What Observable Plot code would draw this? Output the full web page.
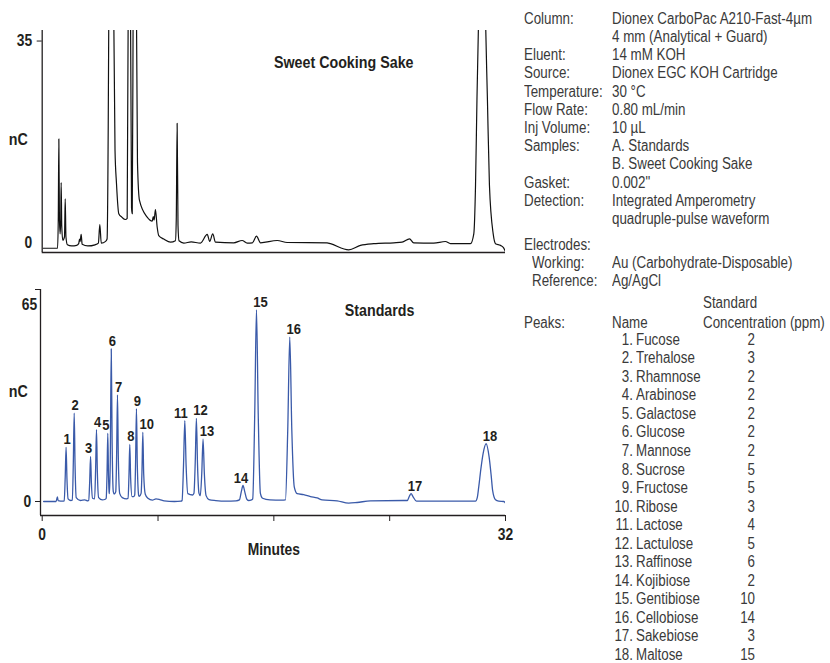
<!DOCTYPE html>
<html><head><meta charset="utf-8">
<script src="https://cdn.jsdelivr.net/npm/d3@7"></script>
<script src="https://cdn.jsdelivr.net/npm/@observablehq/plot@0.6"></script>
<style>
body{margin:0;background:#fff;}
#wrap{position:relative;width:830px;height:663px;overflow:hidden;font-family:"Liberation Sans",Arial,sans-serif;}
#top,#bottom{position:absolute;left:0;width:520px;}
#top{top:0}
#bottom{top:270px}
.t{position:absolute;font-size:16px;line-height:18px;color:#3a3a3a;white-space:pre;transform:scaleX(0.835);transform-origin:left center;}
.t.r{transform-origin:right center;text-align:right;}
</style></head><body>
<div id="wrap"><div id="top"></div><div id="bottom"></div><div id="info"></div></div>
<script>
// ---- Sample trace: Sweet Cooking Sake (minutes, nC) ----
const sakeTime = [0.07,1.06,1.11,1.15,1.19,1.24,1.28,1.31,1.35,1.42,1.54,1.59,1.64,1.74,
 2.03,2.38,2.52,2.58,2.62,2.69,2.76,3.15,3.65,3.88,3.98,4.08,4.38,4.48,
 4.56,4.60,4.77,4.94,5.03,5.13,5.29,5.50,5.75,5.87,
 5.94,6.02,6.10,6.17,6.22,
 6.28,6.40,6.51,6.58,6.72,7.25,7.60,7.67,7.73,7.82,7.94,8.05,8.40,8.86,9.20,
 9.26,9.32,9.38,9.45,9.78,10.29,10.93,
 11.40,11.57,11.78,11.97,13.23,13.81,14.16,14.52,14.80,15.08,16.23,16.92,19.68,19.91,21.17,21.98,22.90,24.28,24.86,25.37,25.66,27.04,27.85,28.20,29.58,
 29.81,29.93,30.03,30.15,30.39,30.61,30.75,30.89,31.15,31.31,31.65,31.86,32.0];
const sakeSignal = [-1.0,-1.0,4,18.0,4,1.5,4,10.4,3,0.4,1.0,7.6,1.0,-0.4,
 -0.6,-0.5,-0.2,0.6,0.2,1.4,-0.3,-0.6,-0.4,-0.1,3.1,-0.1,0.2,0.6,
 20,40,150,40,16,10.3,5.0,4.4,4.0,4.2,
 40,150,40,6,5.0,
 40,150,40,14,7.3,4.4,3.7,4.5,3.9,5.7,2.7,1.2,0.6,0.05,0.3,
 4,20.7,3,0.3,-0.1,0.1,-0.1,
 1.4,0.2,1.5,0.05,-0.05,0.35,-0.1,-0.05,1.1,-0.05,0.35,0.0,-0.05,-0.2,-1.27,-0.5,-0.2,-0.05,0.05,0.64,-0.05,-0.1,0.17,-0.2,-0.2,
 1.5,10,25,40,80,40,25,10,1.5,-0.2,-0.5,-0.9,-1.6];

// ---- Standards trace (minutes, nC) ----
const stdTime = [0.10,0.96,1.05,1.10,1.42,
 1.52,1.59,1.65,1.71,1.79,1.98,
 2.08,2.15,2.21,2.27,2.35,2.64,2.94,3.15,
 3.21,3.28,3.34,3.40,3.48,
 3.62,3.69,3.75,3.81,3.90,4.16,4.36,
 4.42,4.48,4.53,4.58,4.63,4.65,
 4.70,4.77,4.83,4.91,4.97,
 5.08,5.14,5.20,5.26,5.35,5.53,5.83,
 5.93,5.99,6.05,6.11,6.21,6.31,
 6.39,6.45,6.51,6.57,6.67,6.71,
 6.83,6.89,6.95,7.01,7.12,7.30,7.61,7.86,8.12,8.42,9.13,9.59,
 9.66,9.76,9.85,9.94,10.06,10.39,
 10.48,10.57,10.65,10.73,10.83,10.92,
 11.02,11.11,11.20,11.32,11.52,11.99,12.68,13.39,
 13.62,13.76,13.87,13.98,14.12,14.25,14.46,
 14.54,14.68,14.80,14.92,15.07,15.22,15.73,16.54,
 16.80,16.96,17.10,17.24,17.41,17.61,18.06,18.53,18.99,19.34,20.37,21.17,21.75,22.67,24.95,
 25.21,25.36,25.48,25.61,25.85,27.9,29.93,
 30.05,30.15,30.30,30.45,30.66,30.87,31.01,31.11,31.31,31.53,31.88,32.0];
const stdSignal = [0.0,0.0,1.4,0.3,0.1,
 0.2,7.5,16.6,7.0,0.8,0.3,
 0.4,12,27.1,11,1.2,0.3,0.5,0.2,
 0.3,6,13.8,5.5,1.0,
 0.8,10,22.0,9,1.2,0.5,0.7,
 1.0,9,20.9,8,2.6,2.4,
 12,46.8,18,3.0,2.3,
 3.0,14,32.7,13,2.5,1.2,0.8,
 1.0,7.5,17.5,7,1.5,1.5,
 2.0,12,28.5,11,1.8,1.6,
 2.5,9,21.2,8.5,2.2,1.0,0.4,0.8,0.6,0.2,0.0,0.1,
 0.3,11,24.8,11,2.4,2.0,
 2.5,12,25.5,11,2.5,1.8,
 8.5,19.1,8.5,1.8,0.6,0.3,0.1,0.2,
 0.5,3.2,4.9,3.2,0.8,0.3,0.5,
 0.8,27,58.8,27,2.5,1.0,0.5,0.4,
 0.5,22,50.4,22,4.5,2.4,2.1,1.5,1.1,0.5,0.2,-0.5,-0.3,0.2,0.3,
 0.3,1.6,2.4,1.5,0.1,0.1,0.1,
 1.2,4.4,10,14.6,17.7,13.6,8,3.4,0.5,0.1,0.0,-0.5];

// ---- Peak labels ----
const peakNumber = [1,2,3,4,5,6,7,8,9,10,11,12,13,14,15,16,17,18];
const peakTime = [1.65,2.21,3.34,3.75,4.53,4.77,5.20,6.05,6.51,6.95,9.85,10.65,11.11,13.87,14.80,17.10,25.48,30.66];
const peakHeight = [16.6,27.1,13.8,22.0,20.9,46.8,32.7,17.5,28.5,21.2,24.8,25.5,19.1,4.9,58.8,50.4,2.4,17.7];
const peakNames = ["Fucose","Trehalose","Rhamnose","Arabinose","Galactose","Glucose","Mannose","Sucrose","Fructose","Ribose","Lactose","Lactulose","Raffinose","Kojibiose","Gentibiose","Cellobiose","Sakebiose","Maltose"];
const peakConc = [2,3,2,2,2,2,2,5,5,3,4,5,6,2,10,14,3,15];

// ---- Axis ticks ----
const topYTicks = [0, 35];
const bottomYTicks = [0, 65];
const xTicks = [0, 8, 16, 24, 32];
const xTickLabels = ["0", "", "", "", "32"];

// ---- Conditions text ----
const conditionLabels = ["Column:","","Eluent:","Source:","Temperature:","Flow Rate:","Inj Volume:","Samples:","","Gasket:","Detection:","","Electrodes:"," Working:"," Reference:"];
const conditionValues = ["Dionex CarboPac A210-Fast-4\u00b5m","4 mm (Analytical + Guard)","14 mM KOH","Dionex EGC KOH Cartridge","30 \u00b0C","0.80 mL/min","10 \u00b5L","A. Standards","B. Sweet Cooking Sake","0.002\"","Integrated Amperometry","quadruple-pulse waveform","","Au (Carbohydrate-Disposable)","Ag/AgCl"];

const FONT = '"Liberation Sans",Arial,sans-serif';
const INK = "#231f20";
const BLUE = "#3a5aa9";
const SQUEEZE = 0.84;

// condense every SVG text horizontally around its own anchor point
function condense(svg, k) {
  svg.querySelectorAll("text").forEach(t => {
    let tr = t.getAttribute("transform") || "";
    const x = t.getAttribute("x");
    if (x != null && /^-?[\d.]+$/.test(x.trim())) {
      tr += ` translate(${x},0)`;
      t.removeAttribute("x");
    }
    t.setAttribute("transform", (tr + ` scale(${k},1)`).trim());
  });
  return svg;
}

const sake = sakeTime.map((t, i) => ({t, v: sakeSignal[i]}));
const std = stdTime.map((t, i) => ({t, v: stdSignal[i]}));
const peaks = peakNumber.map((n, i) => ({n, t: peakTime[i], h: peakHeight[i]}));

const topMin = -1.737, topMax = 36.83;
const topPlot = Plot.plot({
  width: 520, height: 262, marginLeft: 41.7, marginRight: 15, marginTop: 30, marginBottom: 10,
  style: {fontFamily: FONT, fontWeight: "bold", color: INK, background: "transparent", overflow: "visible"},
  x: {domain: [0, 32], axis: null},
  y: {domain: [topMin, topMax], axis: null},
  marks: [
    Plot.line(sake, {x: "t", y: "v", stroke: "#111", strokeWidth: 1.2, curve: "monotone-x", clip: true}),
    Plot.ruleX([0], {stroke: INK, strokeWidth: 1.3}),
    Plot.ruleY([topMin], {stroke: INK, strokeWidth: 1.3}),
    Plot.axisY([35], {tickSize: 5, tickFormat: () => "", label: null, stroke: INK}),
    Plot.text(topYTicks, {y: d => d, text: d => String(d), frameAnchor: "left", textAnchor: "end", lineAnchor: "middle", dx: -10, fontSize: 16.5, fontWeight: "bold", fill: INK}),
    Plot.text(["nC"], {text: d => d, frameAnchor: "left", dx: -24, dy: -2, textAnchor: "middle", lineAnchor: "middle", fontSize: 17, fontWeight: "bold", fill: INK}),
    Plot.text(["Sweet Cooking Sake"], {text: d => d, frameAnchor: "top-right", dx: -92, dy: 32, textAnchor: "end", lineAnchor: "middle", fontSize: 17, fontWeight: "bold", fill: INK})
  ]
});
document.getElementById("top").appendChild(condense(topPlot, SQUEEZE));

const botMin = -4.292, botMax = 65;
const right4 = [10,12,13,15,16,17,18], left4 = [11], left2 = [3,5,14];
const labelOpts = {x: "t", y: "h", text: d => String(d.n), lineAnchor: "bottom", dy: -3, fontSize: 15.5, fontWeight: "bold", fill: INK};
const bottomPlot = Plot.plot({
  width: 520, height: 300, marginLeft: 41.7, marginRight: 15, marginTop: 19, marginBottom: 55,
  style: {fontFamily: FONT, fontWeight: "bold", color: INK, background: "transparent", overflow: "visible"},
  x: {domain: [0, 32], axis: null},
  y: {domain: [botMin, botMax], axis: null},
  marks: [
    Plot.line(std, {x: "t", y: "v", stroke: BLUE, strokeWidth: 1.3, curve: "monotone-x", clip: true}),
    Plot.ruleX([0], {dx: -1.7, stroke: INK, strokeWidth: 1.3}),
    Plot.ruleY([botMin], {insetLeft: -1.7, stroke: INK, strokeWidth: 1.3}),
    Plot.axisY(bottomYTicks, {tickSize: 5, dx: -1.7, tickFormat: () => "", label: null, stroke: INK}),
    Plot.text(bottomYTicks.filter(d => d === 0), {y: d => d, text: d => String(d), frameAnchor: "left", textAnchor: "end", lineAnchor: "middle", dx: -11, fontSize: 16.5, fontWeight: "bold", fill: INK}),
    Plot.text(bottomYTicks.filter(d => d !== 0), {y: d => d, text: d => String(d), frameAnchor: "left", textAnchor: "end", lineAnchor: "middle", dx: -5, dy: 15, fontSize: 16.5, fontWeight: "bold", fill: INK}),
    Plot.axisX(xTicks, {tickSize: 6, tickPadding: 7, tickFormat: d => xTickLabels[xTicks.indexOf(d)], label: null, fontSize: 16.5, fontWeight: "bold", stroke: INK, fill: INK}),
    Plot.text(["Minutes"], {text: d => d, frameAnchor: "bottom", dy: 34, lineAnchor: "middle", fontSize: 16.5, fontWeight: "bold", fill: INK}),
    Plot.text(["nC"], {text: d => d, frameAnchor: "left", dx: -24, dy: -11, textAnchor: "middle", lineAnchor: "middle", fontSize: 17, fontWeight: "bold", fill: INK}),
    Plot.text(["Standards"], {text: d => d, frameAnchor: "top-right", dx: -91, dy: 21, textAnchor: "end", lineAnchor: "middle", fontSize: 17, fontWeight: "bold", fill: INK}),
    Plot.text(peaks.filter(d => right4.includes(d.n)), {...labelOpts, dx: 4}),
    Plot.text(peaks.filter(d => left4.includes(d.n)), {...labelOpts, dx: -4}),
    Plot.text(peaks.filter(d => left2.includes(d.n)), {...labelOpts, dx: -2}),
    Plot.text(peaks.filter(d => !right4.includes(d.n) && !left4.includes(d.n) && !left2.includes(d.n)), {...labelOpts, dx: 1})
  ]
});
document.getElementById("bottom").appendChild(condense(bottomPlot, SQUEEZE));

// ---- Right-hand text block ----
const info = document.getElementById("info");
function put(text, left, centerY, right) {
  const el = document.createElement("div");
  el.className = right != null ? "t r" : "t";
  el.textContent = text;
  el.style.top = (centerY - 9.2) + "px";
  if (right != null) { el.style.left = (right - 200) + "px"; el.style.width = "200px"; }
  else el.style.left = left + "px";
  info.appendChild(el);
}
conditionLabels.forEach((lab, i) => {
  const cy = i < 12 ? 19 + 18.2 * i : 245 + 18.2 * (i - 12);
  const indent = lab.startsWith(" ");
  if (lab) put(lab.trim(), indent ? 531.5 : 524, cy);
  if (conditionValues[i]) put(conditionValues[i], 612, cy);
});
put("Standard", 703, 303);
put("Peaks:", 524, 323);
put("Name", 612, 323);
put("Concentration (ppm)", 703, 323);
peakNames.forEach((name, i) => {
  const cy = 340 + 18.53 * i;
  put(peakNumber[i] + ".", 0, cy, 633);
  put(name, 636, cy);
  put(String(peakConc[i]), 0, cy, 755);
});
</script>
</body></html>
